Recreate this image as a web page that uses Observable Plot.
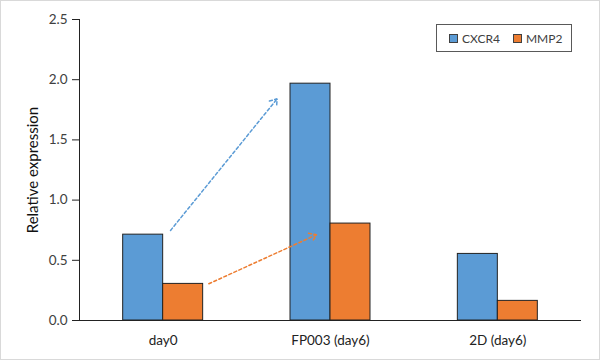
<!DOCTYPE html>
<html>
<head>
<meta charset="utf-8">
<script src="https://cdn.jsdelivr.net/npm/d3@7"></script>
<script src="https://cdn.jsdelivr.net/npm/@observablehq/plot@0.6"></script>
<style>
  body { margin: 0; background: #fff; }
  #wrap { position: relative; width: 600px; height: 360px; overflow: hidden; }
  #border { position: absolute; left: 0; top: 0; width: 600px; height: 360px; box-sizing: border-box; border: 1px solid #d9d9d9; pointer-events: none; }
  #legend { position: absolute; left: 436px; top: 24px; width: 136px; height: 28px; box-sizing: border-box; border: 1px solid #595959; background: #fff;
            display: flex; align-items: center; padding-left: 12px; font-family: Lato, sans-serif; font-size: 12px; color: #404040; }
  .sw { width: 7px; height: 7px; border: 1px solid #404040; margin-right: 4px; }
  .item { display: flex; align-items: center; margin-right: 13px; }
</style>
</head>
<body>
<div id="wrap">
  <div id="chart"></div>
  <div id="legend"></div>
  <div id="border"></div>
</div>
<script>
const categories = ["day0", "FP003 (day6)", "2D (day6)"];
const series = ["CXCR4", "MMP2"];
const seriesColors = ["#5B9BD5", "#ED7D31"];
const cxcr4 = [0.713, 1.967, 0.553];
const mmp2 = [0.304, 0.805, 0.163];
const yTicks = [0, 0.5, 1.0, 1.5, 2.0, 2.5];

// Annotation arrows (x in category-index units, y in data units)
const arrowSeries = ["CXCR4", "MMP2"];
const arrowX1 = [0.544, 0.773];
const arrowY1 = [0.748, 0.305];
const arrowX2 = [1.181, 1.416];
const arrowY2 = [1.841, 0.712];

const barWidth = 0.239; // in category units
const rows = [];
categories.forEach((c, i) => {
  rows.push({cat: c, i, s: 0, series: series[0], value: cxcr4[i]});
  rows.push({cat: c, i, s: 1, series: series[1], value: mmp2[i]});
});
const arrowIdx = arrowSeries.map((_, i) => i);

const chart = Plot.plot({
  width: 600,
  height: 360,
  marginLeft: 79,
  marginRight: 19,
  marginTop: 19,
  marginBottom: 40,
  style: {fontFamily: "Lato, sans-serif", fontSize: "13px", background: "transparent", color: "#404040"},
  x: {domain: [0, 3]},
  y: {domain: [0, 2.5]},
  color: {domain: series, range: seriesColors},
  marks: [
    Plot.rectY(rows, {
      x1: d => d.i + 0.5 - (d.s === 0 ? barWidth : 0),
      x2: d => d.i + 0.5 + (d.s === 1 ? barWidth : 0),
      y: "value",
      fill: "series",
      stroke: "#222",
      strokeWidth: 1
    }),
    Plot.ruleX([0], {stroke: "#222"}),
    Plot.ruleY([0], {stroke: "#222"}),
    Plot.axisY({ticks: yTicks, tickFormat: d3.format(".1f"), tickSize: 7, tickPadding: 5, label: null, stroke: "#222", fill: "#404040", fontSize: 13.5}),
    Plot.axisX({ticks: [0.5, 1.5, 2.5], tickFormat: v => categories[Math.floor(v)], tickSize: 0, tickPadding: 15, label: null, fill: "#222", fontSize: 13.5}),
    Plot.text(["Relative expression"], {frameAnchor: "left", textAnchor: "middle", rotate: -90, dx: -46, fill: "#111", fontSize: 15}),
    Plot.arrow(arrowIdx, {
      x1: i => arrowX1[i], y1: i => arrowY1[i],
      x2: i => arrowX2[i], y2: i => arrowY2[i],
      stroke: i => arrowSeries[i],
      strokeWidth: 1.5,
      strokeDasharray: "3,2.5",
      headLength: 8,
      headAngle: 70
    })
  ]
});
document.getElementById("chart").appendChild(chart);

const legend = document.getElementById("legend");
series.forEach((s, i) => {
  const item = document.createElement("div");
  item.className = "item";
  const sw = document.createElement("div");
  sw.className = "sw";
  sw.style.background = seriesColors[i];
  const t = document.createElement("span");
  t.textContent = s;
  item.appendChild(sw);
  item.appendChild(t);
  legend.appendChild(item);
});
</script>
</body>
</html>
